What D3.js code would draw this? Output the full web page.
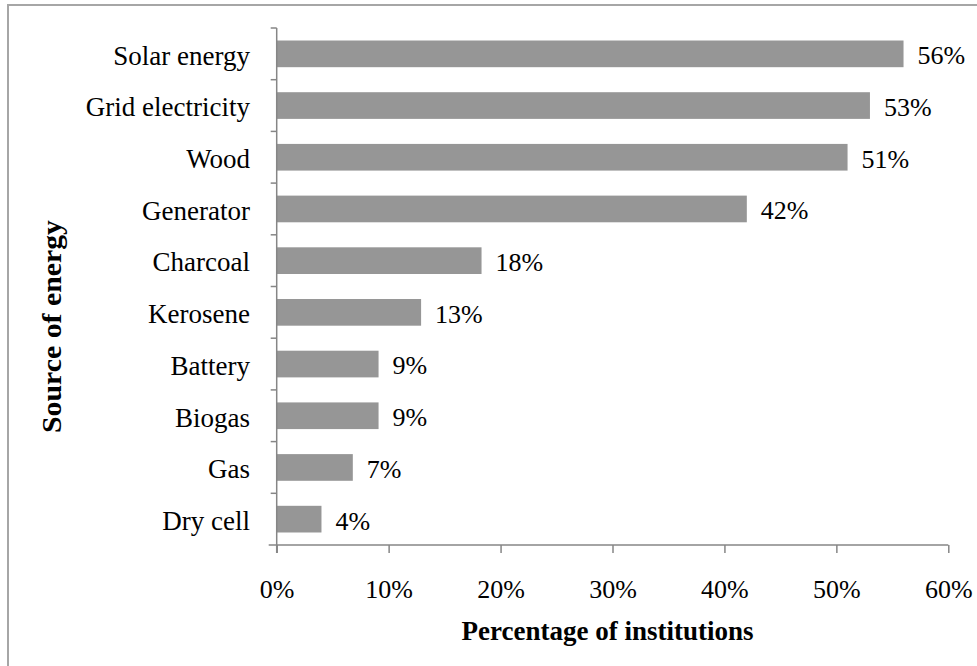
<!DOCTYPE html>
<html>
<head>
<meta charset="utf-8">
<script src="https://cdn.jsdelivr.net/npm/d3@7"></script>
<style>
  html, body { margin: 0; padding: 0; background: #fff; }
  svg { display: block; }
  text { font-family: "Liberation Serif", "Times New Roman", serif; fill: #000; }
</style>
</head>
<body>
<svg id="chart" width="977" height="666"></svg>
<script>
// ---- data ----
const categories = ["Solar energy", "Grid electricity", "Wood", "Generator", "Charcoal",
                    "Kerosene", "Battery", "Biogas", "Gas", "Dry cell"];
const values = [0.56, 0.53, 0.51, 0.42, 0.183, 0.129, 0.091, 0.091, 0.068, 0.04];
const xTicks = [0, 0.1, 0.2, 0.3, 0.4, 0.5, 0.6];
const xTitle = "Percentage of institutions";
const yTitle = "Source of energy";

(function () {
// ---- layout ----
const svg = d3.select("#chart");
const plotLeft = 276.7, plotRight = 948.3, plotTop = 28, plotBottom = 545;
const axisColor = "#868686";
const barColor = "#969696";

// outer frame
svg.append("rect")
  .attr("x", 8).attr("y", 5).attr("width", 1000).attr("height", 700)
  .attr("fill", "none").attr("stroke", "#a6a6a6").attr("stroke-width", 2);

const x = d3.scaleLinear().domain([0, 0.6]).range([plotLeft, plotRight]);
const y = d3.scaleBand().domain(categories).range([plotTop, plotBottom]).padding(0);
const step = y.step();
const barFrac = 0.516;

// bars
svg.append("g").selectAll("rect")
  .data(categories)
  .join("rect")
  .attr("x", x(0))
  .attr("y", c => y(c) + step * (1 - barFrac) / 2)
  .attr("width", (c, i) => x(values[i]) - x(0))
  .attr("height", step * barFrac)
  .attr("fill", barColor);

// value labels
const fmt = d3.format(".0%");
svg.append("g").selectAll("text")
  .data(categories)
  .join("text")
  .attr("x", (c, i) => x(values[i]) + 14)
  .attr("y", c => y(c) + step / 2)
  .attr("dy", "0.4em")
  .attr("font-size", 26)
  .text((c, i) => fmt(values[i]));

// x axis
const xAxis = d3.axisBottom(x)
  .tickValues(xTicks)
  .tickFormat(fmt)
  .tickSize(8)
  .tickPadding(27)
  .tickSizeOuter(0);
const gx = svg.append("g").attr("transform", `translate(0,${plotBottom})`).call(xAxis);
gx.select(".domain").remove();
gx.selectAll(".tick line").attr("stroke", axisColor).attr("stroke-width", 1.5);
gx.selectAll(".tick text")
  .attr("font-size", 26)
  .attr("font-family", "Liberation Serif, serif")
  .attr("fill", "#000");
svg.append("line")
  .attr("x1", plotLeft - 8).attr("x2", plotRight)
  .attr("y1", plotBottom).attr("y2", plotBottom)
  .attr("stroke", axisColor).attr("stroke-width", 1.5);

// y axis
svg.append("line")
  .attr("x1", plotLeft).attr("x2", plotLeft)
  .attr("y1", plotTop).attr("y2", plotBottom + 8)
  .attr("stroke", axisColor).attr("stroke-width", 1.5);
const boundaries = categories.map(c => y(c));
svg.append("g").selectAll("line")
  .data(boundaries)
  .join("line")
  .attr("x1", plotLeft - 6).attr("x2", plotLeft)
  .attr("y1", d => d).attr("y2", d => d)
  .attr("stroke", axisColor).attr("stroke-width", 1.5);

// category labels
svg.append("g").selectAll("text")
  .data(categories)
  .join("text")
  .attr("x", 250)
  .attr("y", c => y(c) + step / 2)
  .attr("dy", "0.4em")
  .attr("text-anchor", "end")
  .attr("font-size", 27)
  .text(c => c);

// axis titles
svg.append("text")
  .attr("x", (plotLeft + plotRight) / 2 - 5)
  .attr("y", 640)
  .attr("text-anchor", "middle")
  .attr("font-size", 27)
  .attr("font-weight", "bold")
  .text(xTitle);

svg.append("text")
  .attr("transform", "translate(61,326.5) rotate(-90)")
  .attr("text-anchor", "middle")
  .attr("font-size", 28)
  .attr("font-weight", "bold")
  .attr("textLength", 213)
  .attr("lengthAdjust", "spacingAndGlyphs")
  .text(yTitle);
})();
</script>
</body>
</html>
